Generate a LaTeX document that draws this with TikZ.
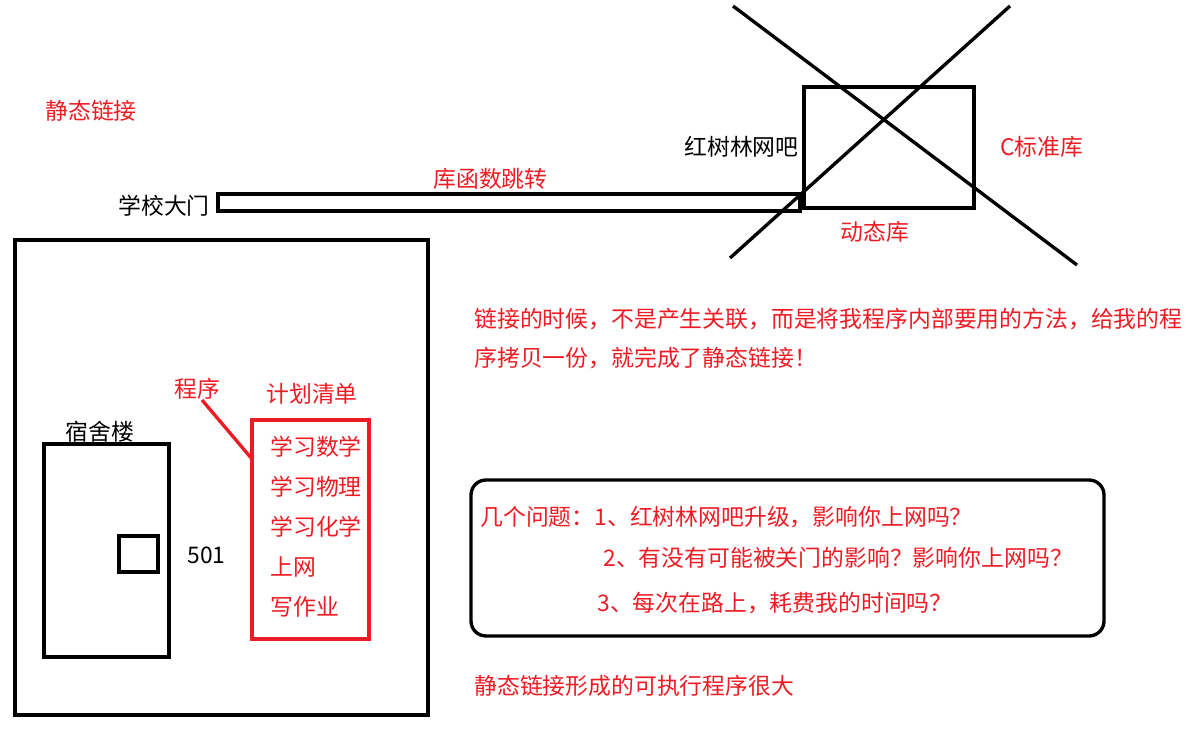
\documentclass[tikz,border=0pt]{standalone}
\usepackage{fontspec}
\setmainfont{Noto Sans CJK SC}
\usepackage{xcolor}
\usetikzlibrary{positioning}
\definecolor{paint red}{RGB}{237,28,36}
\pgfdeclarelayer{edgelayer}
\pgfdeclarelayer{nodelayer}
\pgfsetlayers{edgelayer,nodelayer,main}
\tikzstyle{none}=[inner sep=0mm]
\tikzstyle{blk}=[inner sep=0mm,anchor=west,font=\fontsize{13}{16}\selectfont]
\tikzstyle{rd}=[blk,text=paint red]
\tikzstyle{wall}=[line width=1.9pt,draw=black]
\tikzstyle{red wall}=[line width=1.9pt,draw=paint red]

\begin{document}
\begin{tikzpicture}[x=0.02cm,y=-0.02cm]
	\useasboundingbox (0,0) rectangle (1203,739);
	\begin{pgfonlayer}{nodelayer}
		\node [style=rd] (static) at (45,111) {静态链接};
		\node [style=blk] (gate) at (118,206) {学校大门};
		\node [style=rd] (jump) at (433,179) {库函数跳转};
		\node [style=blk] (cafe) at (684,147) {红树林网吧};
		\node [style=rd] (clib) at (1000,147) {C标准库};
		\node [style=rd] (dyn) at (840,232) {动态库};
		\node [style=rd] (note1) at (474,319) {链接的时候，不是产生关联，而是将我程序内部要用的方法，给我的程};
		\node [style=rd] (note2) at (474,358) {序拷贝一份，就完成了静态链接！};
		\node [style=blk] (dorm) at (65,432) {宿舍楼};
		\node [style=blk] (room) at (187,555) {501};
		\node [style=rd] (prog) at (174,389) {程序};
		\node [style=rd] (plan) at (266,394) {计划清单};
		\node [style=rd] (i1) at (270,447) {学习数学};
		\node [style=rd] (i2) at (270,487) {学习物理};
		\node [style=rd] (i3) at (270,527) {学习化学};
		\node [style=rd] (i4) at (270,567) {上网};
		\node [style=rd] (i5) at (270,607) {写作业};
		\node [style=rd] (q1) at (480,517) {几个问题：1、红树林网吧升级，影响你上网吗？};
		\node [style=rd] (q2) at (603,558) {2、有没有可能被关门的影响？影响你上网吗？};
		\node [style=rd] (q3) at (597,603) {3、每次在路上，耗费我的时间吗？};
		\node [style=rd] (big) at (474,686) {静态链接形成的可执行程序很大};
		\coordinate (progtail) at (202,400);
		\coordinate (planhook) at (252,459);
		\coordinate (xa) at (733,6);
		\coordinate (xb) at (1077,265);
		\coordinate (xc) at (1010,6);
		\coordinate (xd) at (730,258);
	\end{pgfonlayer}
	\begin{pgfonlayer}{edgelayer}
		\draw [style=wall] (218,194) rectangle (800,211);
		\draw [style=wall] (804,87) rectangle (974,208);
		\draw [style=wall] (xa) -- (xb);
		\draw [style=wall] (xc) -- (xd);
		\draw [style=wall] (15,240) rectangle (428,715);
		\draw [style=wall] (44,444) rectangle (169,657);
		\draw [style=wall] (119,536) rectangle (158,572);
		\draw [style=red wall] (252,420) rectangle (369,639);
		\draw [style=red wall] (progtail) -- (planhook);
		\draw [style=wall,rounded corners=0.3cm] (471,480) rectangle (1104,636);
	\end{pgfonlayer}
\end{tikzpicture}
\end{document}
